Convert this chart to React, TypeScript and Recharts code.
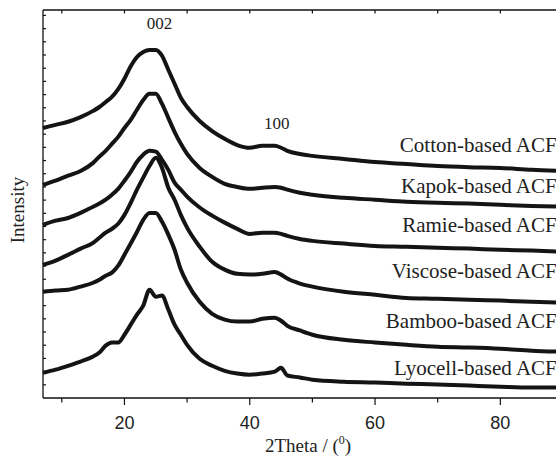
import React from "react";
import { LineChart, Line, XAxis, YAxis, ReferenceDot, Label } from "recharts";

// 2Theta grid (degrees) and intensity (arbitrary units, stacked)
const twoTheta = [7, 9, 11, 13, 15, 16, 17, 18, 19, 20, 21, 22, 23, 24, 25, 26, 27, 28, 29, 30, 32, 34, 36, 38, 40, 42, 44, 45, 46, 48, 50, 55, 60, 65, 70, 75, 80, 85, 90];

const cotton = [69.6, 70.4, 71.2, 72.4, 74.0, 75.0, 76.3, 77.6, 79.6, 82.3, 85.5, 87.9, 89.2, 89.7, 89.7, 88.2, 84.6, 81.0, 77.4, 75.0, 71.4, 68.8, 66.8, 65.2, 64.5, 65.0, 65.0, 64.5, 63.7, 62.9, 62.4, 61.6, 60.8, 60.3, 59.8, 59.5, 59.3, 58.8, 58.5];
const kapok = [54.9, 56.0, 57.3, 58.5, 60.6, 62.2, 63.7, 65.5, 67.3, 69.6, 71.7, 74.3, 76.8, 78.4, 78.4, 75.8, 72.2, 68.6, 65.5, 62.9, 59.3, 57.0, 55.2, 54.4, 53.9, 54.2, 54.4, 54.2, 53.7, 52.9, 52.4, 51.6, 51.1, 50.6, 50.3, 50.1, 49.8, 49.5, 49.3];
const ramie = [44.6, 45.7, 46.4, 47.7, 49.3, 50.1, 51.1, 52.4, 53.9, 56.0, 58.3, 60.9, 62.7, 63.7, 63.5, 61.4, 58.8, 55.5, 53.7, 51.9, 49.1, 47.0, 45.2, 43.6, 42.3, 42.6, 42.6, 42.3, 41.8, 41.0, 40.5, 39.8, 39.2, 39.0, 38.7, 38.5, 38.2, 38.0, 37.7];
const viscose = [34.3, 35.4, 36.9, 38.5, 40.0, 41.3, 42.6, 43.6, 44.9, 47.2, 50.3, 53.7, 56.8, 59.8, 61.9, 59.3, 54.2, 51.1, 47.2, 43.9, 39.0, 35.1, 33.1, 32.0, 31.8, 32.0, 32.5, 31.8, 30.8, 29.5, 28.7, 27.4, 26.6, 25.8, 25.6, 25.3, 25.1, 24.8, 24.6];
const bamboo = [27.4, 27.7, 27.9, 28.7, 29.7, 30.5, 31.5, 32.3, 34.1, 36.9, 39.8, 42.8, 45.9, 47.7, 47.7, 45.4, 42.1, 38.2, 33.1, 29.7, 24.8, 21.7, 20.2, 19.7, 19.7, 20.4, 20.7, 19.9, 18.6, 17.4, 16.3, 15.0, 14.3, 13.7, 13.2, 13.0, 12.7, 12.2, 11.9];
const lyocell = [6.5, 7.3, 8.3, 9.4, 10.7, 11.7, 13.5, 14.3, 14.3, 16.3, 18.9, 21.5, 23.8, 27.9, 26.1, 26.4, 22.8, 18.9, 16.3, 13.7, 10.1, 8.3, 7.0, 6.3, 6.0, 6.3, 6.8, 7.8, 5.8, 5.3, 4.7, 4.2, 4.0, 3.7, 3.5, 3.2, 2.9, 2.7, 2.7];

const seriesKeys = ["cotton", "kapok", "ramie", "viscose", "bamboo", "lyocell"];
const seriesNames = ["Cotton-based ACF", "Kapok-based ACF", "Ramie-based ACF", "Viscose-based ACF", "Bamboo-based ACF", "Lyocell-based ACF"];
// where each name sits (right end, baseline) in data units
const nameX = 89;
const nameY = [63.4, 52.9, 42.8, 31.0, 18.1, 6.0];

const peakNames = ["002", "100"];
const peakX = [25.6, 44.3];
const peakY = [95.0, 69.4];

const xTicks = [10, 20, 30, 40, 50, 60, 70, 80];
const yTicks = [3.4, 6.8, 10.2, 13.6, 17, 20.4, 23.8, 27.2, 30.6, 34, 37.4, 40.8, 44.2, 47.6, 51, 54.4, 57.8, 61.2, 64.6, 68, 71.4, 74.8, 78.2, 81.6, 85, 88.4, 91.8, 95.2, 98.6];

const data = twoTheta.map((x, i) => ({
  x,
  cotton: cotton[i],
  kapok: kapok[i],
  ramie: ramie[i],
  viscose: viscose[i],
  bamboo: bamboo[i],
  lyocell: lyocell[i],
}));

const SERIF = "'Liberation Serif', 'Times New Roman', serif";
const SANS = "'Liberation Sans', Arial, sans-serif";

const CHART_W = 570;
const CHART_H = 456;
const MARGIN = { top: 10, right: 7, bottom: 0, left: 0 };
const X_AXIS_H = 58;
const PLOT_H = CHART_H - MARGIN.top - MARGIN.bottom - X_AXIS_H;

// bottom ticks (outward, labelled every 20) plus the matching inward ticks on the top frame
const BottomTick = (props: any) => {
  const { x, y, payload } = props;
  const major = payload.value % 20 === 0;
  const top = y - PLOT_H;
  return (
    <g>
      <line x1={x} x2={x} y1={y} y2={y + (major ? 7 : 4.5)} stroke="#111" strokeWidth={1.2} />
      <line x1={x} x2={x} y1={top} y2={top + 3.5} stroke="#111" strokeWidth={1.2} />
      {major && (
        <text x={x} y={y + 31} textAnchor="middle" fontFamily={SANS} fontSize={18} fill="#222">
          {payload.value}
        </text>
      )}
    </g>
  );
};

// small inward ticks on the left frame
const LeftTick = (props: any) => {
  const { x, y } = props;
  return <line x1={x} x2={x + 3} y1={y} y2={y} stroke="#111" strokeWidth={1.2} />;
};

export default function App() {
  return (
    <div
      style={{
        position: "fixed",
        left: 0,
        top: 0,
        width: 556,
        height: 456,
        overflow: "hidden",
        background: "#fff",
      }}
    >
      <LineChart width={CHART_W} height={CHART_H} data={data} margin={MARGIN}>
        <XAxis
          dataKey="x"
          type="number"
          domain={[7, 90]}
          ticks={xTicks}
          interval={0}
          tickLine={false}
          tickSize={0}
          tickMargin={0}
          tick={<BottomTick />}
          height={X_AXIS_H}
          axisLine={{ stroke: "#111", strokeWidth: 1.3 }}
        >
          <Label
            content={(p: any) => {
              const vb = p.viewBox;
              return (
                <text x={vb.x + vb.width / 2 + 5} y={vb.y + 54} textAnchor="middle" fontFamily={SERIF} fontSize={19} fill="#222">
                  2Theta / (
                  <tspan fontSize={12} dy={-8}>0</tspan>
                  <tspan dy={8}>)</tspan>
                </text>
              );
            }}
          />
        </XAxis>
        <XAxis
          xAxisId="top"
          orientation="top"
          type="number"
          dataKey="x"
          domain={[7, 90]}
          mirror
          height={1}
          tick={false}
          tickLine={false}
          axisLine={{ stroke: "#111", strokeWidth: 1.3 }}
        />
        <YAxis
          type="number"
          domain={[0, 100]}
          ticks={yTicks}
          interval={0}
          width={43}
          tickSize={0}
          tickMargin={0}
          tickLine={false}
          tick={<LeftTick />}
          axisLine={{ stroke: "#111", strokeWidth: 1.3 }}
        >
          <Label
            content={(p: any) => {
              const vb = p.viewBox;
              const cx = vb.x + vb.width / 2 - 4;
              const cy = vb.y + vb.height / 2 + 6;
              return (
                <text
                  x={cx}
                  y={cy}
                  transform={`rotate(-90 ${cx} ${cy})`}
                  textAnchor="middle"
                  dominantBaseline="central"
                  fontFamily={SERIF}
                  fontSize={19}
                  fill="#222"
                >
                  Intensity
                </text>
              );
            }}
          />
        </YAxis>

        {seriesKeys.map((k) => (
          <Line
            key={k}
            dataKey={k}
            type="monotone"
            stroke="#141414"
            strokeWidth={4}
            dot={false}
            isAnimationActive={false}
          />
        ))}

        {seriesNames.map((name, i) => (
          <ReferenceDot
            key={name}
            x={nameX}
            y={nameY[i]}
            r={0}
            ifOverflow="visible"
            shape={(p: any) => (
              <text x={p.cx} y={p.cy} textAnchor="end" fontFamily={SERIF} fontSize={21} fill="#222">
                {name}
              </text>
            )}
          />
        ))}

        {peakNames.map((name, i) => (
          <ReferenceDot
            key={name}
            x={peakX[i]}
            y={peakY[i]}
            r={0}
            ifOverflow="visible"
            shape={(p: any) => (
              <text x={p.cx} y={p.cy} textAnchor="middle" fontFamily={SERIF} fontSize={17} fill="#222">
                {name}
              </text>
            )}
          />
        ))}
      </LineChart>
    </div>
  );
}
